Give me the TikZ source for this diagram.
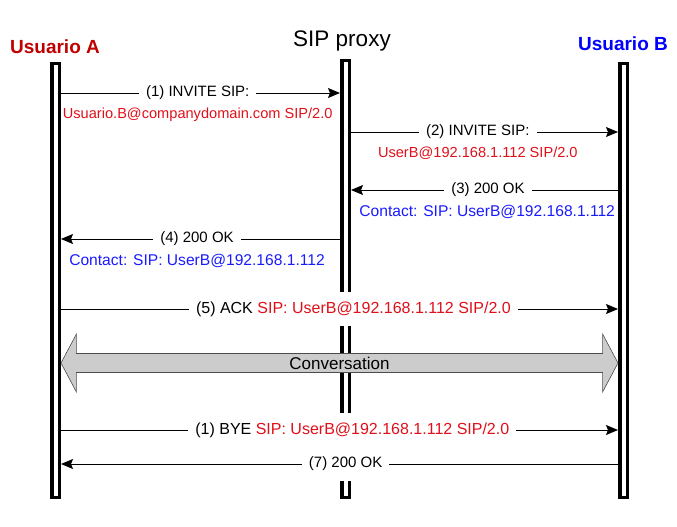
\documentclass[tikz,border=0pt]{standalone}
\usepackage{fontspec}
\setmainfont{Liberation Sans}
\usetikzlibrary{arrows.meta, positioning, shapes.arrows}
\definecolor{userRed}{HTML}{C00000}
\definecolor{msgRed}{HTML}{E0101A}
\definecolor{userBlue}{HTML}{0000FF}
\definecolor{msgBlue}{HTML}{1A1AFF}
\definecolor{convGray}{HTML}{CCCCCC}

\begin{document}
\begin{tikzpicture}[x=1pt, y=-1pt,
    lifeline/.style={draw, line width=3.5pt, fill=white, minimum width=7.5pt, inner sep=0pt},
    msg/.style={-{Stealth[length=12pt, width=10pt, inset=2pt]}, line width=0.9pt},
    lbl/.style={fill=white, font=\fontsize{15}{18}\selectfont, inner xsep=7pt, inner ysep=10pt},
    biglbl/.style={lbl, font=\fontsize{16}{19}\selectfont},
    detail/.style={below=13.5pt, font=\fontsize{14.6}{17}\selectfont, inner sep=1pt},
    contact/.style={detail, text=msgBlue, font=\fontsize{15.6}{18}\selectfont},
    actor/.style={font=\fontsize{19}{22}\selectfont\bfseries},
    conv/.style={double arrow, draw=black!70, line width=0.6pt, fill=convGray,
      minimum height=557pt, minimum width=58pt, double arrow head extend=13.5pt,
      double arrow tip angle=124, inner sep=0pt, font=\fontsize{17}{20}\selectfont}]

  \useasboundingbox (0,0) rectangle (677,527);

  % participants
  \node[actor, text=userRed] (userA) at (55,47) {Usuario A};
  \node[font=\fontsize{22.5}{26}\selectfont] (proxy) at (342,41) {SIP proxy};
  \node[actor, text=userBlue] (userB) at (623,44) {Usuario B};

  % lifelines
  \node[lifeline, minimum height=433.5pt] (A) at (55.5,280.5) {};
  \node[lifeline, minimum height=436.5pt] (P) at (345.5,279) {};
  \node[lifeline, minimum height=433.5pt] (B) at (623.5,280.5) {};

  % message levels
  \coordinate (m1) at (0,93);
  \coordinate (m2) at (0,132);
  \coordinate (m3) at (0,190);
  \coordinate (m4) at (0,239);
  \coordinate (m5) at (0,309);
  \coordinate (m6) at (0,363);
  \coordinate (m7) at (0,430);
  \coordinate (m8) at (0,464);

  \draw[msg] (A.east |- m1) -- node[lbl, pos=0.49] (l1) {(1) INVITE SIP:}
    node[detail, text=msgRed, pos=0.49] (d1) {Usuario.B@companydomain.com SIP/2.0} (P.west |- m1);
  \draw[msg] (P.east |- m2) -- node[lbl, pos=0.475] (l2) {(2) INVITE SIP:}
    node[detail, text=msgRed, pos=0.475] (d2) {UserB@192.168.1.112 SIP/2.0} (B.west |- m2);
  \draw[msg] (B.west |- m3) -- node[lbl, pos=0.487] (l3) {(3) 200 OK}
    node[contact, pos=0.49] (d3) {Contact: SIP: UserB@192.168.1.112} (P.east |- m3);
  \draw[msg] (P.west |- m4) -- node[lbl, pos=0.5125] (l4) {(4) 200 OK}
    node[contact, pos=0.5125] (d4) {Contact: SIP: UserB@192.168.1.112} (A.east |- m4);
  \draw[msg] (A.east |- m5) -- node[biglbl, pos=0.525] (l5)
    {(5) ACK \textcolor{msgRed}{SIP: UserB@192.168.1.112 SIP/2.0}} (B.west |- m5);

  % conversation
  \path (A.east |- m6) -- node[conv] (conv) {Conversation} (B.west |- m6);

  \draw[msg] (A.east |- m7) -- node[biglbl, pos=0.523] (l7)
    {(1) BYE \textcolor{msgRed}{SIP: UserB@192.168.1.112 SIP/2.0}} (B.west |- m7);
  \draw[msg] (B.west |- m8) -- node[lbl, pos=0.489] (l8) {(7) 200 OK} (A.east |- m8);
\end{tikzpicture}
\end{document}
